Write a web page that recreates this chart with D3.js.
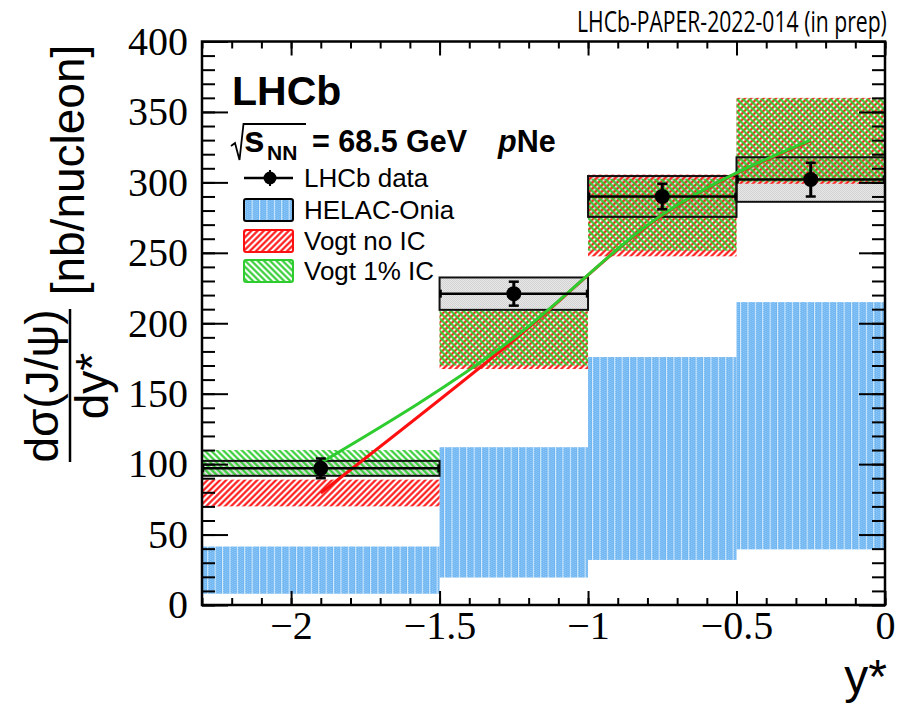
<!DOCTYPE html>
<html>
<head>
<meta charset="utf-8">
<script src="https://cdn.jsdelivr.net/npm/d3@7"></script>
<style>
  html, body { margin: 0; padding: 0; background: #fff; }
  svg { display: block; }
</style>
</head>
<body>
<svg id="chart" width="901" height="707"></svg>
<script>
// ---- data: J/psi cross-section vs rapidity, pNe at 68.5 GeV ----
const binEdges   = [-2.3, -1.5, -1.0, -0.5, 0.0];
const binCenters = [-1.9, -1.25, -0.75, -0.25];

// LHCb measurement
const lhcbValue = [97, 221, 290, 302];
const lhcbStat  = [7, 8.5, 9, 12];
const lhcbSyst  = [5.3, 11.5, 14.5, 15.8];

// HELAC-Onia band
const helacLow  = [8, 19.5, 32, 39.5];
const helacHigh = [41.5, 112, 176, 215];

// Vogt, no intrinsic charm
const vogtNoICValue = [79.5, 188, 276.5, 329.5];
const vogtNoICErr   = [9.5, 20.5, 29, 30.5];

// Vogt, 1% intrinsic charm
const vogt1ICValue = [101, 189.5, 277, 330];
const vogt1ICErr   = [9, 19.5, 25.5, 29.5];

const xTickLabels = [-2, -1.5, -1, -0.5, 0];
const yTickLabels = [0, 50, 100, 150, 200, 250, 300, 350, 400];

const legendLabels = ["LHCb data", "HELAC-Onia", "Vogt no IC", "Vogt 1% IC"];

// ---- layout ----
const frame = { left: 202, right: 885, top: 41.5, bottom: 605 };
const x = d3.scaleLinear().domain([-2.3, 0]).range([frame.left, frame.right]);
const y = d3.scaleLinear().domain([0, 400]).range([frame.bottom, frame.top]);

const svg = d3.select("#chart");
const defs = svg.append("defs");

const RED = "#ff1010";
const GREEN = "#2ecc2e";
const BLUE = "#6fb6f2";

// hatch patterns
function hatch(id, color, angle) {
  const p = defs.append("pattern")
    .attr("id", id)
    .attr("patternUnits", "userSpaceOnUse")
    .attr("width", 4.4).attr("height", 4.4)
    .attr("patternTransform", `rotate(${angle})`);
  p.append("line")
    .attr("x1", 2.2).attr("y1", -1).attr("x2", 2.2).attr("y2", 5.4)
    .attr("stroke", color).attr("stroke-width", 2.1);
}
hatch("hatchRed", RED, 45);
hatch("hatchGreen", GREEN, -45);

// HELAC fill: dotted blue with light vertical seams
const bp = defs.append("pattern")
  .attr("id", "helacFill")
  .attr("patternUnits", "userSpaceOnUse")
  .attr("width", 7.4).attr("height", 2);
bp.append("rect").attr("width", 7.4).attr("height", 2).attr("fill", BLUE);
bp.append("rect").attr("x", 1).attr("y", 0).attr("width", 1).attr("height", 1).attr("fill", "#9fcff7");
bp.append("rect").attr("x", 3).attr("y", 1).attr("width", 1).attr("height", 1).attr("fill", "#9fcff7");
bp.append("rect").attr("x", 5).attr("y", 0).attr("width", 1).attr("height", 1).attr("fill", "#9fcff7");
bp.append("rect").attr("x", 0).attr("y", 0).attr("width", 1).attr("height", 2).attr("fill", "#d6ebfc");

// grey fill for systematic boxes
const gp = defs.append("pattern")
  .attr("id", "systFill")
  .attr("patternUnits", "userSpaceOnUse")
  .attr("width", 2).attr("height", 2);
gp.append("rect").attr("width", 2).attr("height", 2).attr("fill", "#e8e8e8");
gp.append("rect").attr("width", 1).attr("height", 1).attr("fill", "#d2d2d2");
gp.append("rect").attr("x", 1).attr("y", 1).attr("width", 1).attr("height", 1).attr("fill", "#d2d2d2");

defs.append("clipPath").attr("id", "plotClip")
  .append("rect")
  .attr("x", frame.left).attr("y", frame.top)
  .attr("width", frame.right - frame.left).attr("height", frame.bottom - frame.top);

const plot = svg.append("g").attr("clip-path", "url(#plotClip)");
const bins = d3.range(binCenters.length);

// HELAC-Onia bands
plot.append("g").selectAll("rect").data(bins).join("rect")
  .attr("x", i => x(binEdges[i]))
  .attr("width", i => x(binEdges[i + 1]) - x(binEdges[i]))
  .attr("y", i => y(helacHigh[i]))
  .attr("height", i => y(helacLow[i]) - y(helacHigh[i]))
  .attr("fill", "url(#helacFill)");

// LHCb systematic boxes (fill)
plot.append("g").selectAll("rect").data(bins).join("rect")
  .attr("x", i => x(binEdges[i]))
  .attr("width", i => x(binEdges[i + 1]) - x(binEdges[i]))
  .attr("y", i => y(lhcbValue[i] + lhcbSyst[i]))
  .attr("height", i => y(lhcbValue[i] - lhcbSyst[i]) - y(lhcbValue[i] + lhcbSyst[i]))
  .attr("fill", "url(#systFill)");

// Vogt bands
function band(values, errs, fill) {
  plot.append("g").selectAll("rect").data(bins).join("rect")
    .attr("x", i => x(binEdges[i]))
    .attr("width", i => x(binEdges[i + 1]) - x(binEdges[i]))
    .attr("y", i => y(values[i] + errs[i]))
    .attr("height", i => y(values[i] - errs[i]) - y(values[i] + errs[i]))
    .attr("fill", fill);
}
band(vogtNoICValue, vogtNoICErr, "url(#hatchRed)");
band(vogt1ICValue, vogt1ICErr, "url(#hatchGreen)");

// LHCb systematic box outlines
plot.append("g").selectAll("rect").data(bins).join("rect")
  .attr("x", i => x(binEdges[i]))
  .attr("width", i => x(binEdges[i + 1]) - x(binEdges[i]))
  .attr("y", i => y(lhcbValue[i] + lhcbSyst[i]))
  .attr("height", i => y(lhcbValue[i] - lhcbSyst[i]) - y(lhcbValue[i] + lhcbSyst[i]))
  .attr("fill", "none").attr("stroke", "#111").attr("stroke-width", 2);

// Vogt central curves, smoothed through the bin centres
const curve = d3.line()
  .x((d, i) => x(binCenters[i]))
  .y(d => y(d))
  .curve(d3.curveMonotoneX);
plot.append("path").datum(vogtNoICValue)
  .attr("d", curve).attr("fill", "none")
  .attr("stroke", RED).attr("stroke-width", 3);
plot.append("path").datum(vogt1ICValue)
  .attr("d", curve).attr("fill", "none")
  .attr("stroke", GREEN).attr("stroke-width", 3);

// LHCb points with bin widths and statistical errors
const pts = plot.append("g").attr("stroke", "#000").attr("stroke-width", 2.5);
bins.forEach(i => {
  const yv = y(lhcbValue[i]);
  const x0 = x(binEdges[i]), x1 = x(binEdges[i + 1]), xc = x(binCenters[i]);
  pts.append("line").attr("x1", x0).attr("x2", x1).attr("y1", yv).attr("y2", yv);
  pts.append("line").attr("x1", x0 + 1).attr("x2", x0 + 1).attr("y1", yv - 4).attr("y2", yv + 4);
  pts.append("line").attr("x1", x1 - 1).attr("x2", x1 - 1).attr("y1", yv - 4).attr("y2", yv + 4);
  const yt = y(lhcbValue[i] + lhcbStat[i]), yb = y(lhcbValue[i] - lhcbStat[i]);
  pts.append("line").attr("x1", xc).attr("x2", xc).attr("y1", yt).attr("y2", yb).attr("stroke-width", 3);
  pts.append("line").attr("x1", xc - 5).attr("x2", xc + 5).attr("y1", yt).attr("y2", yt);
  pts.append("line").attr("x1", xc - 5).attr("x2", xc + 5).attr("y1", yb).attr("y2", yb);
  pts.append("circle").attr("cx", xc).attr("cy", yv).attr("r", 7.5)
    .attr("fill", "#000").attr("stroke", "none");
});

// ---- axes (ticks on all four sides, pointing inward) ----
function styleAxis(g) {
  g.select(".domain").remove();
  g.selectAll(".tick line").attr("stroke", "#000").attr("stroke-width", 2);
}
const xMinor = x.ticks(23);
const yMinor = y.ticks(40);
const fmtX = d3.format("~g");

svg.append("g").attr("transform", `translate(0,${frame.bottom})`)
  .call(d3.axisBottom(x).tickValues(xMinor).tickSize(-7).tickFormat(""))
  .call(styleAxis);
svg.append("g").attr("transform", `translate(0,${frame.top})`)
  .call(d3.axisTop(x).tickValues(xMinor).tickSize(-7).tickFormat(""))
  .call(styleAxis);
const xb = svg.append("g").attr("transform", `translate(0,${frame.bottom})`)
  .call(d3.axisBottom(x).tickValues(xTickLabels).tickSize(-14).tickPadding(30).tickFormat(fmtX))
  .call(styleAxis);
xb.selectAll("text")
  .attr("font-family", "'Liberation Serif', 'Times New Roman', serif")
  .attr("font-size", 40).attr("fill", "#000").attr("dy", "0.1em");
svg.append("g").attr("transform", `translate(0,${frame.top})`)
  .call(d3.axisTop(x).tickValues(xTickLabels).tickSize(-14).tickFormat(""))
  .call(styleAxis);

svg.append("g").attr("transform", `translate(${frame.left},0)`)
  .call(d3.axisLeft(y).tickValues(yMinor).tickSize(-13).tickFormat(""))
  .call(styleAxis);
svg.append("g").attr("transform", `translate(${frame.right},0)`)
  .call(d3.axisRight(y).tickValues(yMinor).tickSize(-13).tickFormat(""))
  .call(styleAxis);
const yl = svg.append("g").attr("transform", `translate(${frame.left},0)`)
  .call(d3.axisLeft(y).tickValues(yTickLabels).tickSize(-26).tickPadding(14).tickFormat(d3.format("d")))
  .call(styleAxis);
yl.selectAll("text")
  .attr("font-family", "'Liberation Serif', 'Times New Roman', serif")
  .attr("font-size", 40).attr("fill", "#000");
svg.append("g").attr("transform", `translate(${frame.right},0)`)
  .call(d3.axisRight(y).tickValues(yTickLabels).tickSize(-26).tickFormat(""))
  .call(styleAxis);

// frame
svg.append("rect")
  .attr("x", frame.left).attr("y", frame.top)
  .attr("width", frame.right - frame.left).attr("height", frame.bottom - frame.top)
  .attr("fill", "none").attr("stroke", "#000").attr("stroke-width", 2.5);

// ---- axis titles ----
const SANS = "'Liberation Sans', Arial, Helvetica, sans-serif";
svg.append("text")
  .attr("x", 887).attr("y", 693)
  .attr("text-anchor", "end")
  .attr("font-family", SANS).attr("font-size", 48)
  .text("y*");

const yt = svg.append("g").attr("font-family", SANS).attr("font-size", 46).attr("fill", "#000");
yt.append("text")
  .attr("transform", "translate(58,386) rotate(-90)")
  .attr("text-anchor", "middle")
  .text("dσ(J/ψ)");
yt.append("line")
  .attr("x1", 70).attr("x2", 70).attr("y1", 309).attr("y2", 462)
  .attr("stroke", "#000").attr("stroke-width", 2.5);
yt.append("text")
  .attr("transform", "translate(108,386) rotate(-90)")
  .attr("text-anchor", "middle")
  .text("dy*");
yt.append("text")
  .attr("transform", "translate(84,170) rotate(-90)")
  .attr("text-anchor", "middle")
  .text("[nb/nucleon]");

// ---- labels inside the frame ----
svg.append("text")
  .attr("x", 232).attr("y", 105)
  .attr("font-family", SANS).attr("font-weight", "bold").attr("font-size", 41)
  .text("LHCb");

// sqrt(s_NN) = 68.5 GeV pNe
svg.append("path")
  .attr("d", "M231,146 L235,143 L239.5,160 L243.5,124 L306,124")
  .attr("fill", "none").attr("stroke", "#000").attr("stroke-width", 1.8);
svg.append("text")
  .attr("x", 244).attr("y", 152)
  .attr("font-family", SANS).attr("font-weight", "bold").attr("font-size", 37)
  .text("s");
svg.append("text")
  .attr("x", 267).attr("y", 160)
  .attr("font-family", SANS).attr("font-weight", "bold").attr("font-size", 21)
  .text("NN");
svg.append("text")
  .attr("x", 312).attr("y", 152)
  .attr("font-family", SANS).attr("font-weight", "bold").attr("font-size", 30.5)
  .text("= 68.5 GeV");
const pne = svg.append("text")
  .attr("x", 498).attr("y", 152)
  .attr("font-family", SANS).attr("font-weight", "bold").attr("font-size", 30.5);
pne.append("tspan").attr("font-style", "italic").text("p");
pne.append("tspan").text("Ne");

// ---- legend ----
const leg = svg.append("g");
const legX0 = 244, legX1 = 293, legTextX = 304;
const legRows = [178, 210, 241, 271];
// data entry
leg.append("line").attr("x1", legX0).attr("x2", legX1).attr("y1", legRows[0]).attr("y2", legRows[0])
  .attr("stroke", "#000").attr("stroke-width", 2.5);
leg.append("line").attr("x1", 270).attr("x2", 270).attr("y1", legRows[0] - 8).attr("y2", legRows[0] + 8)
  .attr("stroke", "#000").attr("stroke-width", 2);
leg.append("circle").attr("cx", 270).attr("cy", legRows[0]).attr("r", 6.5).attr("fill", "#000");
// band entries
const legFills = [null, "url(#helacFill)", "url(#hatchRed)", "url(#hatchGreen)"];
const legStrokes = [null, "#000", RED, GREEN];
[1, 2, 3].forEach(k => {
  leg.append("rect")
    .attr("x", legX0).attr("y", legRows[k] - 11)
    .attr("width", legX1 - legX0).attr("height", 22)
    .attr("fill", "#fff");
  leg.append("rect")
    .attr("x", legX0).attr("y", legRows[k] - 11)
    .attr("width", legX1 - legX0).attr("height", 22)
    .attr("rx", 2)
    .attr("fill", legFills[k]).attr("stroke", legStrokes[k]).attr("stroke-width", 2);
});
leg.selectAll("text.lab").data(legendLabels).join("text")
  .attr("class", "lab")
  .attr("x", legTextX).attr("y", (d, i) => legRows[i] + 8.5)
  .attr("font-family", SANS).attr("font-size", 26)
  .text(d => d);

// ---- document tag (narrowed horizontally to fit its slot) ----
const tag = svg.append("g");
const tagText = tag.append("text")
  .attr("x", 0).attr("y", 0)
  .attr("font-family", "'Open Sans', 'Noto Sans', sans-serif").attr("font-size", 29)
  .text("LHCb-PAPER-2022-014 (in prep)");
const tagWidth = tagText.node().getComputedTextLength();
tag.attr("transform", `translate(577,32) scale(${310 / tagWidth},1)`);
</script>
</body>
</html>
